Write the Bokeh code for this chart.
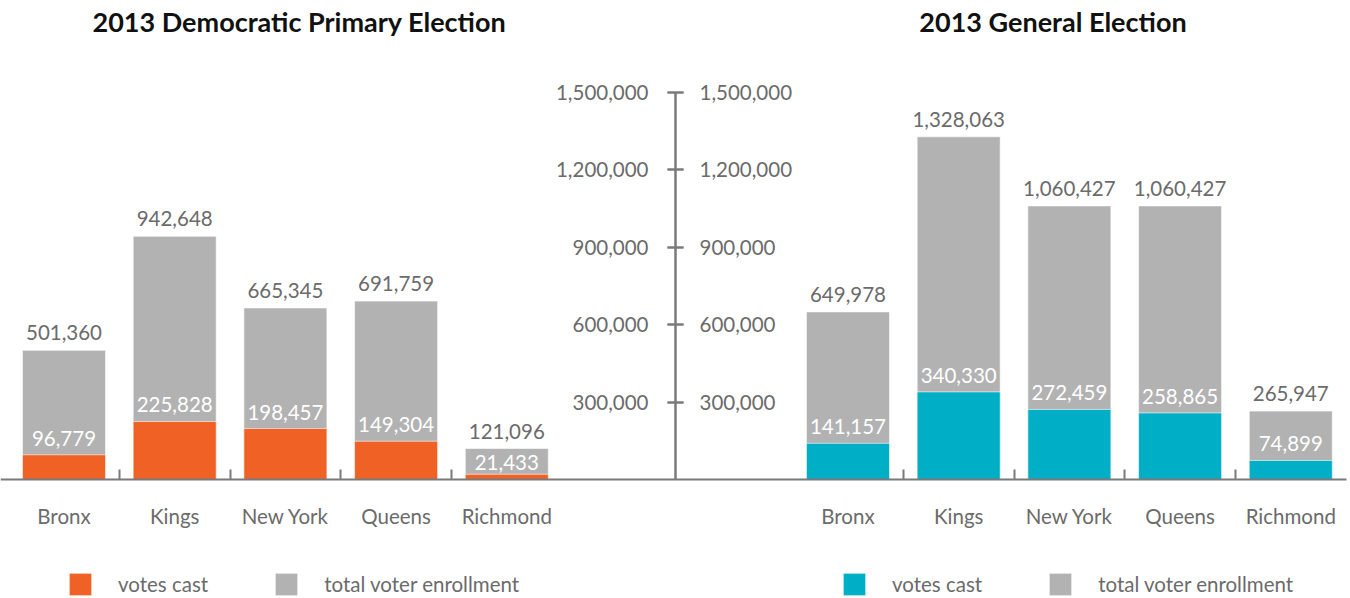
from bokeh.plotting import figure
from bokeh.models import (Range1d, LinearAxis, FixedTicker, NumeralTickFormatter,
                          CustomJSTickFormatter, ColumnDataSource, LabelSet, Label,
                          Legend, LegendItem)
from bokeh.core.properties import value
from bokeh.embed import file_html
from bokeh.resources import INLINE

# ---------------- data ----------------
boroughs = ["Bronx", "Kings", "New York", "Queens", "Richmond"]
primary_enrollment = [501360, 942648, 665345, 691759, 121096]
primary_votes = [96779, 225828, 198457, 149304, 21433]
general_enrollment = [649978, 1328063, 1060427, 1060427, 265947]
general_votes = [141157, 340330, 272459, 258865, 74899]
y_ticks = [300000, 600000, 900000, 1200000, 1500000]
titles = ["2013 Democratic Primary Election", "2013 General Election"]
legend_labels = ["votes cast", "total voter enrollment"]

# ---------------- style / layout ----------------
FONT = "Lato"
TXT = "#6b6b6b"
AXC = "#7a7a7a"
GRAY = "#b2b2b2"
ORANGE = "#f06125"
TEAL = "#00aec6"
BAR_W = 0.75
RIGHT_OFFSET = 7.082
AXIS_X = 5.524
FS = "20.5px"
PX_PER_UNIT = 0.0002583   # vertical pixels per vote (frame height / y span)
Y0, Y1 = -459540, 1855600
X0, X1 = -0.5736, 11.6215

n = len(boroughs)
left_x = [float(i) for i in range(n)]
right_x = [RIGHT_OFFSET + i for i in range(n)]
centers = left_x + right_x
bounds_ticks = [i + 0.5 for i in range(n - 1)] + [RIGHT_OFFSET + i + 0.5 for i in range(n - 1)]

p = figure(width=1350, height=598, output_backend="svg", toolbar_location=None,
           x_axis_location=None, y_axis_location=None, title=None,
           x_range=Range1d(X0, X1), y_range=Range1d(Y0, Y1),
           min_border=0, outline_line_color=None)
p.grid.visible = False
p.background_fill_color = "white"
p.border_fill_color = "white"


def panel(xs, totals, votes, color):
    # inner label: keep it inside the grey bar when the grey part is short
    inner_off = [min(9.0, (t - v) * PX_PER_UNIT - 21) for t, v in zip(totals, votes)]
    src = ColumnDataSource(dict(
        x=xs, total=totals, votes=votes, inner_off=inner_off,
        total_txt=[f"{v:,}" for v in totals],
        votes_txt=[f"{v:,}" for v in votes]))
    rt = p.vbar(x="x", top="total", bottom=0, width=BAR_W, source=src,
                fill_color=GRAY, line_color="white", line_alpha=0.6, line_width=1)
    rv = p.vbar(x="x", top="votes", bottom=0, width=BAR_W, source=src,
                fill_color=color, line_color="white", line_alpha=0.6, line_width=1)
    p.add_layout(LabelSet(x="x", y="total", text="total_txt", source=src,
                          text_align="center", text_baseline="bottom", y_offset=10,
                          text_font=value(FONT), text_font_size=value(FS),
                          text_color=TXT))
    p.add_layout(LabelSet(x="x", y="votes", text="votes_txt", source=src,
                          text_align="center", text_baseline="bottom", y_offset="inner_off",
                          text_font=value(FONT), text_font_size=value(FS),
                          text_color="white"))
    return rt, rv


lt, lv = panel(left_x, primary_enrollment, primary_votes, ORANGE)
rt, rv = panel(right_x, general_enrollment, general_votes, TEAL)

# bottom category axis at y = 0
xaxis = LinearAxis(fixed_location=0, bounds=(X0, 11.585),
                   ticker=FixedTicker(ticks=centers, minor_ticks=bounds_ticks),
                   formatter=CustomJSTickFormatter(
                       args=dict(pos=centers, names=boroughs + boroughs),
                       code="const i = pos.findIndex(v => Math.abs(v - tick) < 1e-6);"
                            " return i >= 0 ? names[i] : '';"),
                   axis_line_color=AXC, axis_line_width=2,
                   major_tick_line_color=None, major_tick_in=0, major_tick_out=0,
                   minor_tick_line_color=AXC, minor_tick_line_width=2,
                   minor_tick_in=10, minor_tick_out=0,
                   major_label_standoff=24,
                   major_label_text_font=FONT, major_label_text_font_size=FS,
                   major_label_text_color=TXT)
p.add_layout(xaxis, "below")


def yaxis(standoff):
    return LinearAxis(fixed_location=AXIS_X, ticker=FixedTicker(ticks=y_ticks),
                      bounds=(0, y_ticks[-1]),
                      formatter=NumeralTickFormatter(format="0,0"),
                      axis_line_color=AXC, axis_line_width=2,
                      major_tick_line_color=AXC, major_tick_line_width=2,
                      major_tick_in=8, major_tick_out=8,
                      minor_tick_line_color=None,
                      major_label_standoff=standoff,
                      major_label_text_font=FONT, major_label_text_font_size=FS,
                      major_label_text_color=TXT)


p.add_layout(yaxis(19), "left")
p.add_layout(yaxis(16), "right")

# titles
for tx, t in zip([2.127, 8.934], titles):
    p.add_layout(Label(x=tx, y=1774300, text=t, text_align="center",
                       text_baseline="middle", text_font=FONT,
                       text_font_style="bold", text_font_size="27px",
                       text_color="#111111"))

# legends
for loc, rvv, rtt in [((66, 0), lv, lt), ((840, 0), rv, rt)]:
    lg = Legend(items=[LegendItem(label=legend_labels[0], renderers=[rvv]),
                       LegendItem(label=legend_labels[1], renderers=[rtt])],
                orientation="horizontal", location=loc,
                glyph_width=28, glyph_height=28, label_standoff=24, spacing=64,
                padding=0, margin=0, border_line_color=None,
                background_fill_alpha=0,
                label_text_font=FONT, label_text_font_size=FS,
                label_text_color=TXT)
    p.add_layout(lg)

open("out.html", "w").write(file_html(p, INLINE))
